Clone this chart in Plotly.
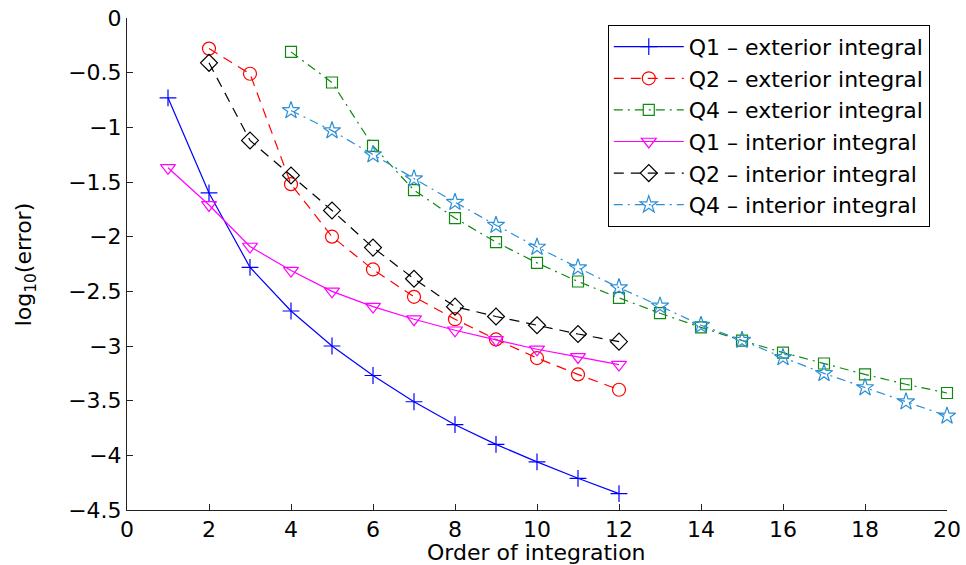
import plotly.graph_objects as go

# Data
x_q1_ext = [1, 2, 3, 4, 5, 6, 7, 8, 9, 10, 11, 12]
q1_ext = [-0.73, -1.60, -2.28, -2.68, -3.00, -3.27, -3.51, -3.72, -3.90, -4.06, -4.21, -4.35]

x_q2_ext = [2, 3, 4, 5, 6, 7, 8, 9, 10, 11, 12]
q2_ext = [-0.28, -0.51, -1.52, -2.00, -2.30, -2.55, -2.755, -2.94, -3.11, -3.26, -3.40]

x_q4_ext = [4, 5, 6, 7, 8, 9, 10, 11, 12, 13, 14, 15, 16, 17, 18, 19, 20]
q4_ext = [-0.31, -0.59, -1.17, -1.575, -1.83, -2.05, -2.24, -2.41, -2.56, -2.70, -2.83,
          -2.95, -3.06, -3.16, -3.26, -3.35, -3.43]

x_q1_int = [1, 2, 3, 4, 5, 6, 7, 8, 9, 10, 11, 12]
q1_int = [-1.37, -1.71, -2.09, -2.31, -2.50, -2.64, -2.755, -2.856, -2.944, -3.03, -3.10, -3.17]

x_q2_int = [2, 3, 4, 5, 6, 7, 8, 9, 10, 11, 12]
q2_int = [-0.41, -1.12, -1.44, -1.76, -2.10, -2.385, -2.64, -2.73, -2.81, -2.89, -2.96]

x_q4_int = [4, 5, 6, 7, 8, 9, 10, 11, 12, 13, 14, 15, 16, 17, 18, 19, 20]
q4_int = [-0.846, -1.03, -1.25, -1.47, -1.685, -1.895, -2.095, -2.284, -2.466, -2.634, -2.81,
          -2.947, -3.105, -3.25, -3.38, -3.51, -3.64]

names = ["Q1 \u2013 exterior integral", "Q2 \u2013 exterior integral", "Q4 \u2013 exterior integral",
         "Q1 \u2013 interior integral", "Q2 \u2013 interior integral", "Q4 \u2013 interior integral"]

x_title = "Order of integration"
y_title = "log<sub>10</sub>(error)"

FONT = "DejaVu Sans, sans-serif"

series = [
    (x_q1_ext, q1_ext, "#0000ff", "solid", "cross-thin-open", 12),
    (x_q2_ext, q2_ext, "#ff0000", "10px,7px", "circle-open", 13),
    (x_q4_ext, q4_ext, "#118811", "9px,5px,2px,5px", "square-open", 11),
    (x_q1_int, q1_int, "#ff00ff", "solid", "triangle-down-open", 13),
    (x_q2_int, q2_int, "#000000", "10px,7px", "diamond-open", 13),
    (x_q4_int, q4_int, "#2b8fd6", "9px,5px,2px,5px", "star-open", 13),
]

fig = go.Figure()
for (xs, ys, col, dash, sym, size), nm in zip(series, names):
    fig.add_trace(go.Scatter(
        x=xs, y=ys, name=nm, mode="lines+markers",
        line=dict(color=col, width=1.2, dash=dash),
        marker=dict(symbol=sym, size=size, color=col, line=dict(color=col, width=1.2)),
        cliponaxis=False,
    ))

fig.update_layout(
    width=966, height=565,
    margin=dict(l=127, r=19, t=18, b=55),
    paper_bgcolor="white", plot_bgcolor="white",
    font=dict(family=FONT, size=22, color="black"),
    showlegend=True,
    legend=dict(
        x=0.979, y=0.986, xanchor="right", yanchor="top",
        bgcolor="white", bordercolor="black", borderwidth=1,
        font=dict(family=FONT, size=22, color="black"),
        tracegroupgap=0, itemwidth=70,
    ),
    xaxis=dict(
        range=[0, 20], dtick=2, tick0=0, automargin=False,
        showline=True, linecolor="#222", linewidth=1, mirror=False,
        ticks="inside", ticklen=6, tickcolor="#222",
        showgrid=False, zeroline=False,
        tickfont=dict(family=FONT, size=22),
    ),
    yaxis=dict(
        range=[-4.5, 0], dtick=0.5, tick0=0, automargin=False,
        showline=True, linecolor="#222", linewidth=1, mirror=False,
        ticks="inside", ticklen=6, tickcolor="#222",
        showgrid=False, zeroline=False,
        tickfont=dict(family=FONT, size=22),
    ),
    annotations=[
        dict(text=x_title, xref="paper", yref="paper", x=0.499, y=-0.087,
             xanchor="center", yanchor="middle", showarrow=False,
             font=dict(family=FONT, size=22, color="black")),
        dict(text=y_title, xref="paper", yref="paper", x=-0.124, y=0.5,
             xanchor="center", yanchor="middle", showarrow=False, textangle=-90,
             font=dict(family=FONT, size=22, color="black")),
    ],
)

# remove the default page margin so the 966x565 figure fills the window exactly
fig.write_html(
    "out.html",
    config={"displayModeBar": False},
    post_script="document.body.style.margin='0';document.documentElement.style.overflow='hidden';",
)
